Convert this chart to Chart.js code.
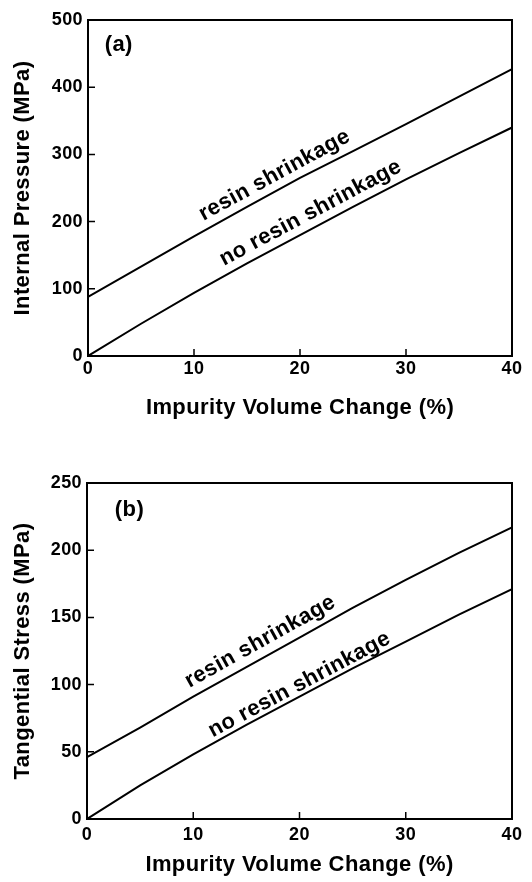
<!DOCTYPE html>
<html>
<head>
<meta charset="utf-8">
<script src="https://cdn.jsdelivr.net/npm/chart.js@4.4.1/dist/chart.umd.min.js"></script>
<style>
  html, body { margin: 0; padding: 0; background: #fff; }
  .panel { position: absolute; left: 0; width: 532px; }
  #wrapA { top: 0; height: 440px; }
  #wrapB { top: 440px; height: 442px; }
</style>
</head>
<body>
<div class="panel" id="wrapA"><canvas id="chartA"></canvas></div>
<div class="panel" id="wrapB"><canvas id="chartB"></canvas></div>
<script>
const volumeChange = [0, 5, 10, 15, 20, 25, 30, 35, 40];
const xTicks = [0, 10, 20, 30, 40];

// (a) internal pressure (MPa)
const pressureShrink   = [88, 133, 178, 222, 265, 305, 345, 386, 427];
const pressureNoShrink = [0, 48, 94, 138, 180, 222, 263, 302, 340];
const pressureTicks = [0, 100, 200, 300, 400, 500];

// (b) tangential stress (MPa)
const stressShrink   = [46, 68, 91, 113, 135, 157, 178, 198, 217];
const stressNoShrink = [0, 25, 48, 70, 91, 112, 132, 152, 171];
const stressTicks = [0, 50, 100, 150, 200, 250];

const seriesNames = ['resin shrinkage', 'no resin shrinkage'];

const FONT = "'Liberation Sans', Arial, sans-serif";
const SPACING = '0.4px';

const spacingPlugin = {
  id: 'spacing',
  beforeUpdate(chart) { chart.ctx.letterSpacing = SPACING; },
  beforeDraw(chart) { chart.ctx.letterSpacing = SPACING; }
};

// box round the plot area, with short inward tick marks
const framePlugin = {
  id: 'frame',
  afterDraw(chart) {
    const a = chart.chartArea, ctx = chart.ctx;
    const xs = chart.scales.x, ys = chart.scales.y;
    ctx.save();
    ctx.strokeStyle = '#000';
    ctx.lineWidth = 2;
    ctx.strokeRect(a.left, a.top, a.right - a.left, a.bottom - a.top);
    ctx.lineWidth = 1.5;
    ctx.beginPath();
    xs.ticks.forEach(t => {
      const px = xs.getPixelForValue(t.value);
      ctx.moveTo(px, a.bottom);
      ctx.lineTo(px, a.bottom - 7);
    });
    ys.ticks.forEach(t => {
      const py = ys.getPixelForValue(t.value);
      ctx.moveTo(a.left, py);
      ctx.lineTo(a.left + 7, py);
    });
    ctx.stroke();
    ctx.restore();
  }
};

// text written along the curves + panel letter
const notesPlugin = {
  id: 'notes',
  afterDatasetsDraw(chart, args, opts) {
    const ctx = chart.ctx;
    const xs = chart.scales.x, ys = chart.scales.y;
    ctx.save();
    ctx.fillStyle = '#000';
    ctx.font = 'bold 22px ' + FONT;
    ctx.letterSpacing = SPACING;
    ctx.textAlign = 'center';
    ctx.textBaseline = 'middle';
    (opts.curves || []).forEach(c => {
      const pts = chart.getDatasetMeta(c.dataset).data;
      const xv = volumeChange;
      let i = 0;
      while (i < xv.length - 2 && xv[i + 1] < c.x) i++;
      const p1 = pts[i], p2 = pts[i + 1];
      const ang = Math.atan2(p2.y - p1.y, p2.x - p1.x);
      ctx.save();
      ctx.translate(xs.getPixelForValue(c.x), ys.getPixelForValue(c.y));
      ctx.rotate(ang);
      ctx.fillText(c.text, 0, 0);
      ctx.restore();
    });
    if (opts.panel) {
      ctx.fillText(opts.panel.text, xs.getPixelForValue(opts.panel.x), ys.getPixelForValue(opts.panel.y));
    }
    ctx.restore();
  }
};

function makeChart(id, s1, s2, yTicks, yTitle, layout, notes) {
  const yMax = yTicks[yTicks.length - 1];
  return new Chart(document.getElementById(id), {
    type: 'line',
    data: {
      labels: volumeChange,
      datasets: [
        { label: seriesNames[0], data: volumeChange.map((v, i) => ({ x: v, y: s1[i] })) },
        { label: seriesNames[1], data: volumeChange.map((v, i) => ({ x: v, y: s2[i] })) }
      ]
    },
    options: {
      responsive: true,
      maintainAspectRatio: false,
      animation: false,
      layout: { padding: { top: layout.top, right: 20, left: 0, bottom: 0 } },
      elements: {
        line: { borderColor: '#000', borderWidth: 2, tension: 0, fill: false },
        point: { radius: 0 }
      },
      scales: {
        x: {
          type: 'linear',
          min: 0, max: 40,
          afterBuildTicks: s => { s.ticks = xTicks.map(v => ({ value: v })); },
          afterFit: s => { s.height = layout.xHeight; },
          border: { display: true, color: '#000', width: 2 },
          grid: { drawOnChartArea: false, drawTicks: false },
          ticks: { color: '#000', padding: layout.xPad, maxRotation: 0, font: { family: FONT, size: 18, weight: 'bold' } },
          title: {
            display: true, text: 'Impurity Volume Change (%)', color: '#000',
            font: { family: FONT, size: 22, weight: 'bold' },
            padding: { top: 0, bottom: layout.xTitlePad }
          }
        },
        y: {
          type: 'linear',
          min: 0, max: yMax,
          afterBuildTicks: s => { s.ticks = yTicks.map(v => ({ value: v })); },
          afterFit: s => { s.width = layout.yWidth; },
          border: { display: true, color: '#000', width: 2 },
          grid: { drawOnChartArea: false, drawTicks: false },
          ticks: { color: '#000', padding: 5, font: { family: FONT, size: 18, weight: 'bold' } },
          title: {
            display: true, text: yTitle, color: '#000',
            font: { family: FONT, size: 22, weight: 'bold' },
            padding: { top: 10, bottom: 0 }
          }
        }
      },
      plugins: {
        legend: { display: false },
        tooltip: { enabled: false },
        notes: notes
      }
    },
    plugins: [spacingPlugin, framePlugin, notesPlugin]
  });
}

makeChart('chartA', pressureShrink, pressureNoShrink, pressureTicks, 'Internal Pressure (MPa)',
  { top: 20, xHeight: 84, xPad: 2, xTitlePad: 19, yWidth: 88 },
  {
    panel: { text: '(a)', x: 2.9, y: 463 },
    curves: [
      { text: seriesNames[0], dataset: 0, x: 17.6, y: 269 },
      { text: seriesNames[1], dataset: 1, x: 21.0, y: 213 }
    ]
  });

makeChart('chartB', stressShrink, stressNoShrink, stressTicks, 'Tangential Stress (MPa)',
  { top: 43, xHeight: 63, xPad: 5, xTitlePad: 4, yWidth: 87 },
  {
    panel: { text: '(b)', x: 4.0, y: 230 },
    curves: [
      { text: seriesNames[0], dataset: 0, x: 16.3, y: 132 },
      { text: seriesNames[1], dataset: 1, x: 20.0, y: 100 }
    ]
  });
</script>
</body>
</html>
